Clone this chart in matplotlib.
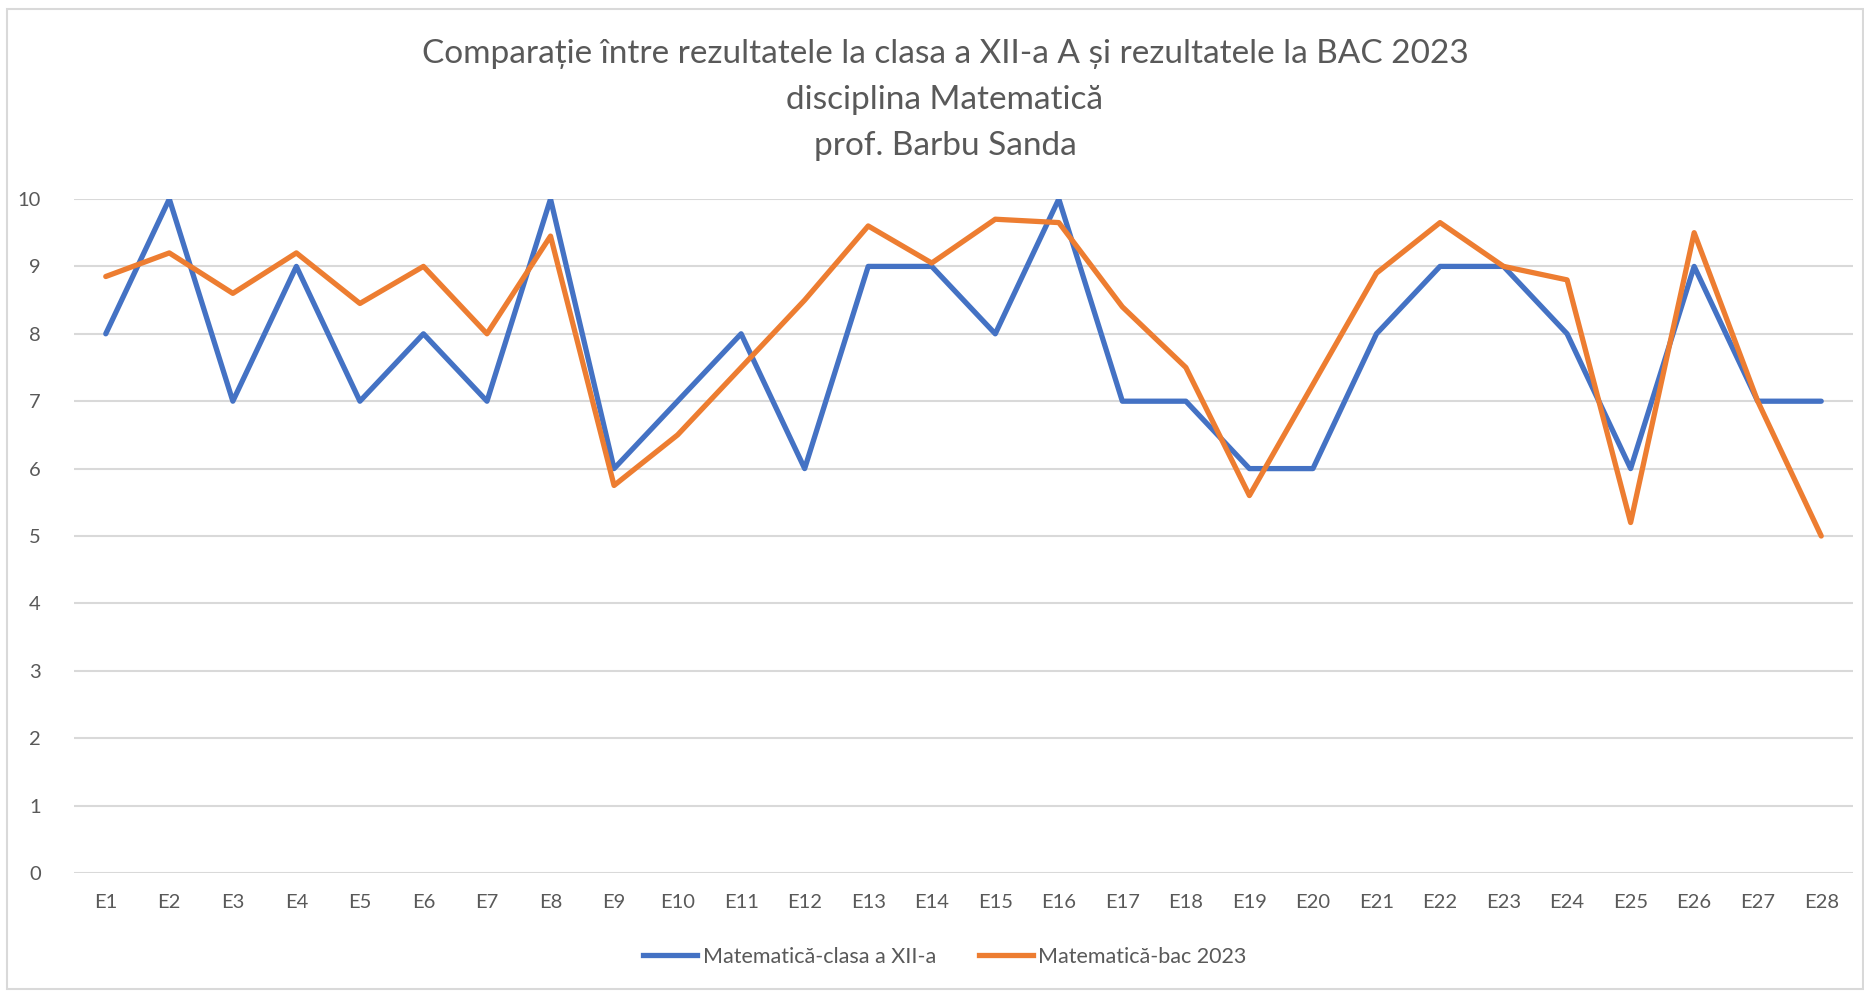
import matplotlib
matplotlib.use("Agg")
import matplotlib.pyplot as plt
from matplotlib.patches import Rectangle
from matplotlib.lines import Line2D

plt.rcParams['font.family'] = ['Lato', 'DejaVu Sans']

# data
elevi = [f"E{i}" for i in range(1, 29)]
clasa = [8, 10, 7, 9, 7, 8, 7, 10, 6, 7, 8, 6, 9, 9, 8, 10, 7, 7, 6, 6, 8, 9, 9, 8, 6, 9, 7, 7]
bac = [8.85, 9.2, 8.6, 9.2, 8.45, 9.0, 8.0, 9.45, 5.75, 6.5, 7.5, 8.5, 9.6, 9.05,
       9.7, 9.65, 8.4, 7.5, 5.6, 7.25, 8.9, 9.65, 9.0, 8.8, 5.2, 9.5, 7.0, 5.0]
y_ticks = list(range(0, 11))

title_lines = [
    "Comparație între rezultatele la clasa a XII-a A și rezultatele la BAC 2023",
    "disciplina Matematică",
    "prof. Barbu Sanda",
]
serii = ["Matematică-clasa a XII-a", "Matematică-bac 2023"]

BLUE = "#4472C4"
ORANGE = "#ED7D31"
GRID = "#D9D9D9"
TEXT = "#595959"

W, H = 1865, 991
fig = plt.figure(figsize=(W / 100, H / 100), dpi=100)
ax = fig.add_axes([74 / W, 1 - 873 / H, (1853 - 74) / W, (873 - 199) / H])

x = list(range(len(elevi)))
ax.plot(x, clasa, color=BLUE, lw=3.8, solid_joinstyle="round", solid_capstyle="round", zorder=3)
ax.plot(x, bac, color=ORANGE, lw=3.8, solid_joinstyle="round", solid_capstyle="round", zorder=4)

ax.set_xlim(-0.5, len(elevi) - 0.5)
ax.set_ylim(0, 10)
ax.set_yticks(y_ticks)
ax.set_xticks(x)
ax.set_xticklabels(elevi)
ax.grid(axis="y", color=GRID, lw=1.5)
ax.set_axisbelow(True)
for s in ax.spines.values():
    s.set_visible(False)
ax.tick_params(length=0, labelsize=14.5, labelcolor=TEXT)
ax.tick_params(axis="x", pad=15)
ax.tick_params(axis="y", pad=24)
for lbl in ax.get_yticklabels():
    lbl.set_horizontalalignment("right")

# title
for i, line in enumerate(title_lines):
    fig.text(945 / W, 1 - (54 + i * 46) / H, line, ha="center", va="center",
             fontsize=24, color=TEXT)

# legend
handles = [Line2D([], [], color=BLUE, lw=3.8), Line2D([], [], color=ORANGE, lw=3.8)]
fig.legend(handles, serii, loc="center", bbox_to_anchor=(945 / W, 1 - 957 / H),
           ncol=2, frameon=False, fontsize=15.5, labelcolor=TEXT,
           handlelength=2.5, handletextpad=0.25, columnspacing=2.0)

# chart border
fig.patches.append(Rectangle((7 / W, 2 / H), (W - 9) / W, (H - 11) / H,
                             transform=fig.transFigure, fill=False,
                             edgecolor=GRID, lw=1.5))

fig.savefig("out.png", dpi=100)
